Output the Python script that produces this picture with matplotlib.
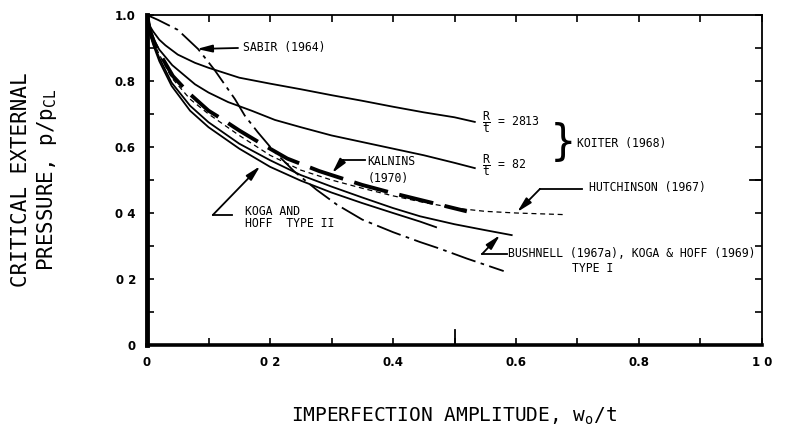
import numpy as np
import matplotlib
matplotlib.use("Agg")
import matplotlib.pyplot as plt

plt.rcParams['mathtext.fontset'] = 'custom'
plt.rcParams['mathtext.rm'] = 'DejaVu Sans Mono'
plt.rcParams['mathtext.it'] = 'DejaVu Sans Mono'

MONO = 'DejaVu Sans Mono'

# Koiter (1968), R/t = 2813
koiter_2813_x = [0, 0.005, 0.01, 0.02, 0.03, 0.05, 0.078, 0.1, 0.15, 0.2, 0.25, 0.3, 0.35, 0.4, 0.45, 0.5, 0.533]
koiter_2813_y = [1.0, 0.965, 0.95, 0.925, 0.908, 0.88, 0.855, 0.84, 0.81, 0.792, 0.775, 0.757, 0.74, 0.722, 0.705, 0.69, 0.676]

# Koiter (1968), R/t = 82
koiter_82_x = [0, 0.005, 0.013, 0.02, 0.041, 0.078, 0.1, 0.132, 0.17, 0.208, 0.25, 0.3, 0.35, 0.4, 0.45, 0.5, 0.533]
koiter_82_y = [1.0, 0.96, 0.918, 0.895, 0.848, 0.79, 0.765, 0.736, 0.71, 0.682, 0.66, 0.635, 0.615, 0.595, 0.575, 0.552, 0.536]

# Sabir (1964)
sabir_x = [0, 0.018, 0.05, 0.083, 0.11, 0.143, 0.159, 0.18, 0.205, 0.24, 0.276, 0.309,
           0.35, 0.4, 0.444, 0.476, 0.52, 0.58]
sabir_y = [1.0, 0.985, 0.955, 0.897, 0.833, 0.745, 0.695, 0.645, 0.59, 0.525, 0.47, 0.425,
           0.38, 0.342, 0.312, 0.292, 0.262, 0.224]

# Kalnins (1970)
kalnins_x = [0, 0.005, 0.01, 0.02, 0.042, 0.067, 0.1, 0.119, 0.15, 0.184, 0.228, 0.28, 0.35, 0.4, 0.45, 0.52]
kalnins_y = [1.0, 0.95, 0.925, 0.885, 0.815, 0.765, 0.71, 0.688, 0.65, 0.612, 0.565, 0.527, 0.485, 0.46, 0.437, 0.405]

# Hutchinson (1967)
hutch_x = [0, 0.005, 0.01, 0.02, 0.04, 0.07, 0.1, 0.15, 0.2, 0.25, 0.3, 0.35, 0.4, 0.45, 0.5, 0.55, 0.6, 0.68]
hutch_y = [1.0, 0.95, 0.92, 0.88, 0.81, 0.745, 0.70, 0.635, 0.575, 0.53, 0.50, 0.475, 0.452, 0.432, 0.415, 0.405, 0.40, 0.395]

# Bushnell (1967a), Koga & Hoff (1969) type I
bush_x = [0, 0.005, 0.01, 0.02, 0.04, 0.07, 0.1, 0.15, 0.2, 0.25, 0.3, 0.35, 0.4, 0.444, 0.5, 0.55, 0.593]
bush_y = [1.0, 0.945, 0.915, 0.87, 0.795, 0.725, 0.675, 0.61, 0.56, 0.515, 0.48, 0.447, 0.415, 0.39, 0.366, 0.348, 0.333]

# Koga and Hoff type II
koga2_x = [0, 0.005, 0.01, 0.02, 0.04, 0.07, 0.1, 0.15, 0.2, 0.25, 0.3, 0.35, 0.4, 0.444, 0.47]
koga2_y = [1.0, 0.94, 0.91, 0.86, 0.785, 0.71, 0.66, 0.595, 0.54, 0.498, 0.462, 0.43, 0.40, 0.374, 0.357]

xtick_vals = [0, 0.2, 0.4, 0.6, 0.8, 1.0]
xtick_text = ['0', '0 2', '0.4', '0.6', '0.8', '1 0']
ytick_vals = [0, 0.2, 0.4, 0.6, 0.8, 1.0]
ytick_text = ['0', '0 2', '0 4', '0.6', '0.8', '1.0']

fig = plt.figure(figsize=(8.06, 4.38), dpi=100)
ax = fig.add_axes([0.1824, 0.2123, 0.7630, 0.7535])

k = 'black'
ax.plot(koiter_2813_x, koiter_2813_y, color=k, lw=1.3)
ax.plot(koiter_82_x, koiter_82_y, color=k, lw=1.3)
ax.plot(sabir_x, sabir_y, color=k, lw=1.3, dashes=(14, 3, 2, 3))
ax.plot(hutch_x, hutch_y, color=k, lw=0.9, dashes=(4, 3))
ax.plot(kalnins_x, kalnins_y, color=k, lw=2.8, dashes=(9, 3))
ax.plot(bush_x, bush_y, color=k, lw=1.3)
ax.plot(koga2_x, koga2_y, color=k, lw=1.3)

ax.set_xlim(0, 1.0)
ax.set_ylim(0, 1.0)

# ticks
ax.set_xticks(xtick_vals)
ax.set_xticklabels(xtick_text)
ax.set_yticks(ytick_vals)
ax.set_yticklabels(ytick_text)
ax.set_xticks(np.arange(0.1, 1.0, 0.2), minor=True)
ax.set_yticks(np.arange(0.1, 1.0, 0.2), minor=True)
ax.tick_params(which='both', direction='in', top=True, right=True, length=5, width=1.2,
               labelsize=8.5)
ax.tick_params(axis='x', pad=8)
ax.tick_params(axis='y', pad=8)
for lab in ax.get_xticklabels() + ax.get_yticklabels():
    lab.set_fontweight('bold')
# longer centre ticks
ax.plot([0.5, 0.5], [0, 0.045], color=k, lw=1.3)
ax.plot([0.98, 1.0], [0.5, 0.5], color=k, lw=1.3)

ax.spines['left'].set_linewidth(3.5)
ax.spines['bottom'].set_linewidth(2.6)
ax.spines['top'].set_linewidth(1.3)
ax.spines['right'].set_linewidth(1.3)

ax.set_xlabel('IMPERFECTION AMPLITUDE, $\\mathrm{w_o}$/t', fontfamily=MONO, fontsize=14, labelpad=26)
ax.set_ylabel('CRITICAL EXTERNAL\nPRESSURE, p/p$_\\mathrm{CL}$', fontfamily=MONO, fontsize=15,
              labelpad=40, linespacing=1.25)

fs = 8.3
arrow = dict(arrowstyle='-|>,head_length=0.9,head_width=0.22', color=k, lw=1.3, shrinkA=0, shrinkB=0)

# Sabir
ax.annotate('', xy=(0.081, 0.897), xytext=(0.148, 0.90), arrowprops=arrow)
ax.text(0.156, 0.90, 'SABIR (1964)', fontfamily=MONO, fontsize=fs, va='center')

# Kalnins
ax.plot([0.355, 0.319], [0.561, 0.561], color=k, lw=1.3)
ax.annotate('', xy=(0.301, 0.521), xytext=(0.319, 0.561), arrowprops=arrow)
ax.text(0.358, 0.556, 'KALNINS', fontfamily=MONO, fontsize=fs, va='center')
ax.text(0.358, 0.506, '(1970)', fontfamily=MONO, fontsize=fs, va='center')

# Koga and Hoff type II
ax.plot([0.138, 0.107], [0.394, 0.394], color=k, lw=1.3)
ax.annotate('', xy=(0.184, 0.542), xytext=(0.107, 0.394), arrowprops=arrow)
ax.text(0.159, 0.406, 'KOGA AND', fontfamily=MONO, fontsize=fs, va='center')
ax.text(0.159, 0.367, 'HOFF  TYPE II', fontfamily=MONO, fontsize=fs, va='center')

# Bushnell
ax.plot([0.585, 0.545], [0.276, 0.276], color=k, lw=1.3)
ax.annotate('', xy=(0.574, 0.333), xytext=(0.545, 0.276), arrowprops=arrow)
ax.text(0.587, 0.276, 'BUSHNELL (1967a), KOGA & HOFF (1969)', fontfamily=MONO, fontsize=fs, va='center')
ax.text(0.691, 0.233, 'TYPE I', fontfamily=MONO, fontsize=fs, va='center')

# Hutchinson
ax.plot([0.707, 0.639], [0.473, 0.473], color=k, lw=1.3)
ax.annotate('', xy=(0.602, 0.403), xytext=(0.639, 0.473), arrowprops=arrow)
ax.text(0.719, 0.476, 'HUTCHINSON (1967)', fontfamily=MONO, fontsize=fs, va='center')

# Koiter
ax.text(0.544, 0.676, r'$\dfrac{R}{t}$ = 2813', fontfamily=MONO, fontsize=fs, va='center')
ax.text(0.544, 0.545, r'$\dfrac{R}{t}$ = 82', fontfamily=MONO, fontsize=fs, va='center')
ax.text(0.676, 0.612, '}', fontfamily='DejaVu Sans', fontsize=30, va='center', ha='center')
ax.text(0.699, 0.612, 'KOITER (1968)', fontfamily=MONO, fontsize=fs, va='center')

fig.savefig('out.png', dpi=100)
